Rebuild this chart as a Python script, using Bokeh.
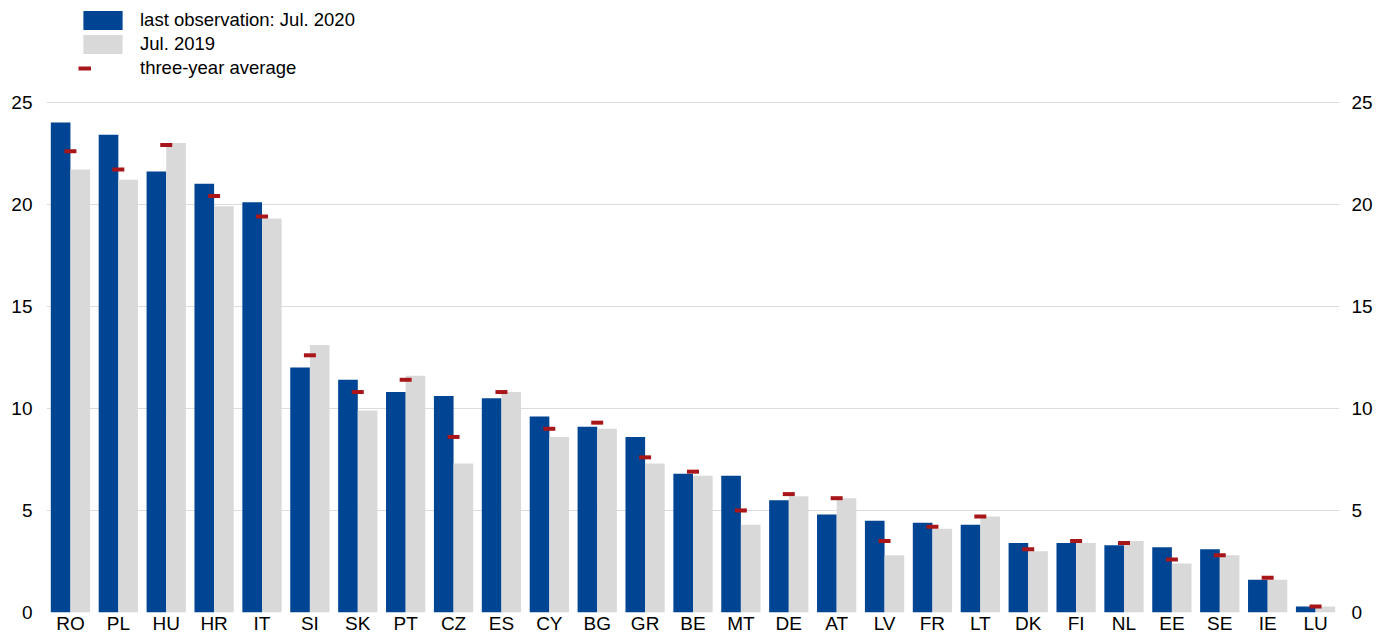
from bokeh.plotting import figure
from bokeh.models import (FactorRange, Range1d, LinearAxis, FixedTicker, Legend,
                          LegendItem, ColumnDataSource)
from bokeh.transform import dodge
from bokeh.embed import file_html
from bokeh.resources import INLINE

# ---- data -------------------------------------------------------------
countries = ["RO", "PL", "HU", "HR", "IT", "SI", "SK", "PT", "CZ", "ES", "CY", "BG", "GR", "BE",
             "MT", "DE", "AT", "LV", "FR", "LT", "DK", "FI", "NL", "EE", "SE", "IE", "LU"]
last_obs_jul_2020 = [24.0, 23.4, 21.6, 21.0, 20.1, 12.0, 11.4, 10.8, 10.6, 10.5, 9.6, 9.1, 8.6, 6.8,
                     6.7, 5.5, 4.8, 4.5, 4.4, 4.3, 3.4, 3.4, 3.3, 3.2, 3.1, 1.6, 0.3]
jul_2019 = [21.7, 21.2, 23.0, 19.9, 19.3, 13.1, 9.9, 11.6, 7.3, 10.8, 8.6, 9.0, 7.3, 6.7,
            4.3, 5.7, 5.6, 2.8, 4.1, 4.7, 3.0, 3.4, 3.5, 2.4, 2.8, 1.6, 0.3]
three_year_avg = [22.6, 21.7, 22.9, 20.4, 19.4, 12.6, 10.8, 11.4, 8.6, 10.8, 9.0, 9.3, 7.6, 6.9,
                  5.0, 5.8, 5.6, 3.5, 4.2, 4.7, 3.1, 3.5, 3.4, 2.6, 2.8, 1.7, 0.3]
y_ticks = [0, 5, 10, 15, 20, 25]
series_labels = ["last observation: Jul. 2020", "Jul. 2019", "three-year average"]

# ---- style / layout ---------------------------------------------------
BLUE = "#004494"
GREY = "#d9d9d9"
RED = "#a8161a"
FONT = "Liberation Sans"
TICK_FS = "19px"
LEG_FS = "18.5px"

W, H = 1391, 636
FRAME_L, FRAME_R, FRAME_B = 46, 1339, 614   # page pixels
PX_PER_UNIT = 20.48                          # 0 at 614 px, 25 at 102 px
Y_TOP = FRAME_B / PX_PER_UNIT                # frame reaches canvas top (room for legend)

src = ColumnDataSource(dict(country=countries, last=last_obs_jul_2020,
                            prev=jul_2019, avg=three_year_avg))

p = figure(x_range=FactorRange(factors=countries, range_padding=0),
           y_range=Range1d(0, Y_TOP),
           width=W, height=H, output_backend="svg", toolbar_location=None,
           min_border_left=FRAME_L, min_border_right=W - FRAME_R, min_border_top=0,
           min_border_bottom=H - FRAME_B)
p.outline_line_color = None
p.background_fill_color = "white"
p.border_fill_color = "white"

r_blue = p.vbar(x=dodge("country", -0.205, range=p.x_range), top="last", bottom=0,
                width=0.41, source=src, fill_color=BLUE, line_color=None)
r_grey = p.vbar(x=dodge("country", 0.205, range=p.x_range), top="prev", bottom=0,
                width=0.41, source=src, fill_color=GREY, line_color=None)
r_avg = p.segment(x0=dodge("country", -0.125, range=p.x_range), y0="avg",
                  x1=dodge("country", 0.125, range=p.x_range), y1="avg",
                  line_width=4, line_color=RED, line_cap="butt", source=src)

ticker = FixedTicker(ticks=y_ticks)
p.ygrid.ticker = ticker
p.ygrid.grid_line_color = "#dcdcdc"
p.xgrid.grid_line_color = None


def style_axis(ax, standoff):
    ax.axis_line_color = None
    ax.major_tick_line_color = None
    ax.minor_tick_line_color = None
    ax.major_tick_out = 0
    ax.major_tick_in = 0
    ax.minor_tick_out = 0
    ax.minor_tick_in = 0
    ax.major_label_text_font = FONT
    ax.major_label_text_font_size = TICK_FS
    ax.major_label_text_color = "black"
    ax.major_label_standoff = standoff


p.yaxis.ticker = ticker
style_axis(p.yaxis[0], 14)
raxis = LinearAxis(ticker=ticker)
style_axis(raxis, 12)
p.add_layout(raxis, "right")
style_axis(p.xaxis[0], 0)


def make_legend(items, left, top, glyph_w, standoff, n_rows):
    row_h = 24
    return Legend(items=items,
                  location=(left - FRAME_L, FRAME_B - (top + n_rows * row_h)),
                  orientation="vertical", glyph_width=glyph_w, glyph_height=row_h,
                  label_standoff=standoff, spacing=0, padding=0, margin=0,
                  border_line_color=None, background_fill_alpha=0,
                  label_text_font=FONT, label_text_font_size=LEG_FS,
                  label_text_color="black", label_height=row_h)


# bars legend: swatches at x 83-122, labels start at x 140
leg1 = make_legend([LegendItem(label=series_labels[0], renderers=[r_blue]),
                    LegendItem(label=series_labels[1], renderers=[r_grey])],
                   left=78, top=10, glyph_w=49, standoff=13, n_rows=2)
# average legend: short red dash at x 78-91
leg2 = make_legend([LegendItem(label=series_labels[2], renderers=[r_avg])],
                   left=78, top=58, glyph_w=13, standoff=49, n_rows=1)
p.add_layout(leg1)
p.add_layout(leg2)

open("out.html", "w").write(file_html(p, INLINE))
